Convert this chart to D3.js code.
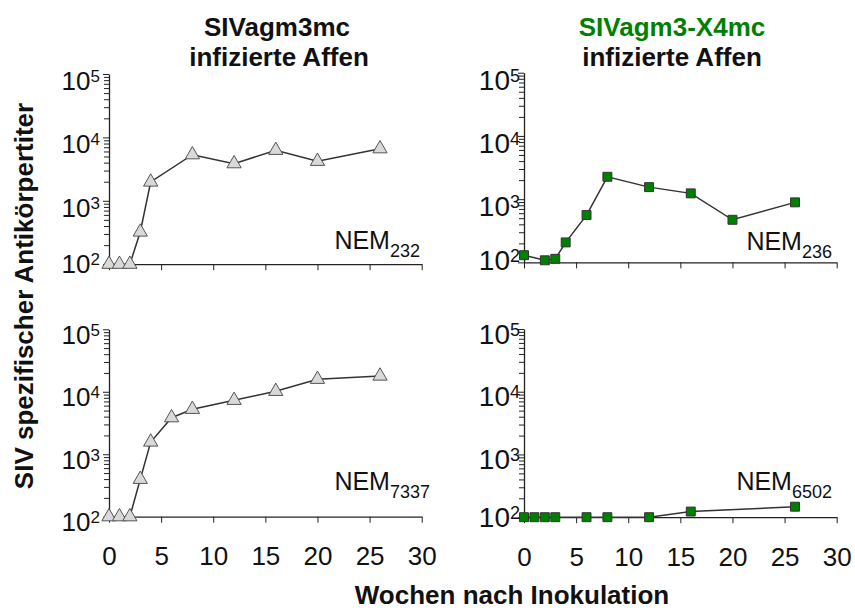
<!DOCTYPE html>
<html><head><meta charset="utf-8">
<script src="https://cdn.jsdelivr.net/npm/d3@7"></script>
<style>body{margin:0;background:#fff} svg{display:block} text{font-family:"Liberation Sans",Arial,Helvetica,sans-serif}</style>
</head><body><svg id="c" width="855" height="610"></svg>
<script>
// ---- data ----
const weeksTL = [0,1,2,3,4,8,12,16,20,26];
const titerTL = [100,100,100,322,1980,5330,3850,6260,4200,6630];
const weeksTR = [0,2,3,4,6,8,12,16,20,26];
const titerTR = [130,108,114,207,560,2260,1550,1235,472,890];
const weeksBL = [0,1,2,3,4,6,8,12,16,20,26];
const titerBL = [100,100,100,397,1570,3845,5240,7300,10170,15840,17870];
const weeksBR = [0,1,2,3,6,8,12,16,26];
const titerBR = [100,100,100,100,100,100,100,123,147];
const xTicks = [0,5,10,15,20,25,30];
const yDecades = [100,1000,10000,100000];
const animals = ["232","236","7337","6502"];
const titleLeft = ["SIVagm3mc","infizierte Affen"];
const titleRight = ["SIVagm3-X4mc","infizierte Affen"];
const yLabel = "SIV spezifischer Antikörpertiter";
const xLabel = "Wochen nach Inokulation";

// ---- layout ----
const GREEN = "#008000";
const panels = [
  {x0:109,x1:421.7,yb:264.2,yt:74,  w:weeksTL,v:titerTL,mk:"tri",nem:animals[0],nemEnd:420,nemBase:248.5,lr:100,fs:26,ss:17,base:16,low:9, xl:false},
  {x0:524,x1:836.7,yb:262.4,yt:72.7,w:weeksTR,v:titerTR,mk:"sq", nem:animals[1],nemEnd:832,nemBase:250,lr:520,fs:28,ss:18,base:17,low:8, xl:false},
  {x0:109,x1:421.7,yb:516.7,yt:329.3,w:weeksBL,v:titerBL,mk:"tri",nem:animals[2],nemEnd:430,nemBase:490,lr:100,fs:26,ss:17,base:14.5,low:14.5,xl:true},
  {x0:524,x1:836.7,yb:517.2,yt:329, w:weeksBR,v:titerBR,mk:"sq", nem:animals[3],nemEnd:832,nemBase:490,lr:520,fs:28,ss:18,base:14.5,low:9.5,xl:true}
];

const svg = d3.select("#c");
const minor = [];
for (let k=2;k<5;k++) for (let m=1;m<10;m++) minor.push(m*Math.pow(10,k));
minor.push(100000);

panels.forEach(p=>{
  const x = d3.scaleLinear().domain([0,30]).range([p.x0,p.x1]);
  const y = d3.scaleLog().domain([100,100000]).range([p.yb,p.yt]);
  const g = svg.append("g");

  // y axis
  const ya = g.append("g").attr("transform",`translate(${p.x0},0)`)
    .call(d3.axisLeft(y).tickValues(minor).tickSize(5).tickSizeOuter(0).tickFormat(""));
  ya.selectAll(".tick line").attr("stroke","#222").attr("stroke-width",1)
    .attr("x2",d=>yDecades.includes(d)? -6 : -5);
  ya.select(".domain").attr("stroke","#222").attr("stroke-width",1.3);

  // y decade labels
  yDecades.forEach(d=>{
    const exp = Math.round(Math.log10(d));
    const off = d===100 ? p.low : p.base;
    const t = g.append("text").attr("x",p.lr).attr("y",y(d)+off)
      .attr("text-anchor","end").attr("font-size",p.fs).attr("fill","#111");
    t.append("tspan").text("10");
    t.append("tspan").attr("font-size",p.ss).attr("dy",-8).text(exp);
  });

  // x axis
  const xa = g.append("g").attr("transform",`translate(0,${p.yb})`)
    .call(d3.axisBottom(x).tickValues(xTicks).tickSize(6).tickSizeOuter(0).tickPadding(24)
      .tickFormat(p.xl ? d3.format("d") : ""));
  xa.selectAll(".tick line").attr("stroke","#222").attr("stroke-width",1);
  xa.select(".domain").attr("stroke","#222").attr("stroke-width",1.3);
  xa.selectAll(".tick text").attr("font-size",26).attr("fill","#111")
    .attr("font-family",'"Liberation Sans",Arial,sans-serif');

  // data line
  const pts = p.w.map((w,i)=>[w,p.v[i]]);
  g.append("path").datum(pts)
    .attr("d",d3.line().x(d=>x(d[0])).y(d=>y(d[1])))
    .attr("fill","none").attr("stroke","#333").attr("stroke-width",1.5);

  // markers
  const sym = p.mk==="tri" ? d3.symbol().type(d3.symbolTriangle).size(88)
                           : d3.symbol().type(d3.symbolSquare).size(80);
  g.selectAll(".m").data(pts).enter().append("path")
    .attr("transform",d=>`translate(${x(d[0])},${y(d[1])})`)
    .attr("d",sym)
    .attr("fill",p.mk==="tri" ? "#d9d9d9" : GREEN)
    .attr("stroke",p.mk==="tri" ? "#555" : "#333").attr("stroke-width",1);

  // NEM label
  const n = g.append("text").attr("x",p.nemEnd).attr("y",p.nemBase)
    .attr("text-anchor","end").attr("font-size",25).attr("fill","#111");
  n.append("tspan").text("NEM");
  n.append("tspan").attr("font-size",18).attr("dy",8).text(p.nem);
});

// titles
const tL = svg.append("text").attr("text-anchor","middle").attr("font-weight","bold").attr("font-size",26).attr("fill","#111");
tL.append("tspan").attr("x",277).attr("y",36).text(titleLeft[0]);
tL.append("tspan").attr("x",279).attr("y",66).text(titleLeft[1]);
const tR = svg.append("text").attr("text-anchor","middle").attr("font-weight","bold").attr("font-size",26).attr("fill","#111");
tR.append("tspan").attr("x",672).attr("y",36).attr("fill",GREEN).text(titleRight[0]);
tR.append("tspan").attr("x",672).attr("y",66).text(titleRight[1]);

// axis titles
svg.append("text").attr("transform","translate(33,296) rotate(-90)")
  .attr("text-anchor","middle").attr("font-weight","bold").attr("font-size",26).attr("fill","#111")
  .text(yLabel);
svg.append("text").attr("x",512).attr("y",604)
  .attr("text-anchor","middle").attr("font-weight","bold").attr("font-size",26).attr("fill","#111")
  .text(xLabel);
</script>
</body></html>
